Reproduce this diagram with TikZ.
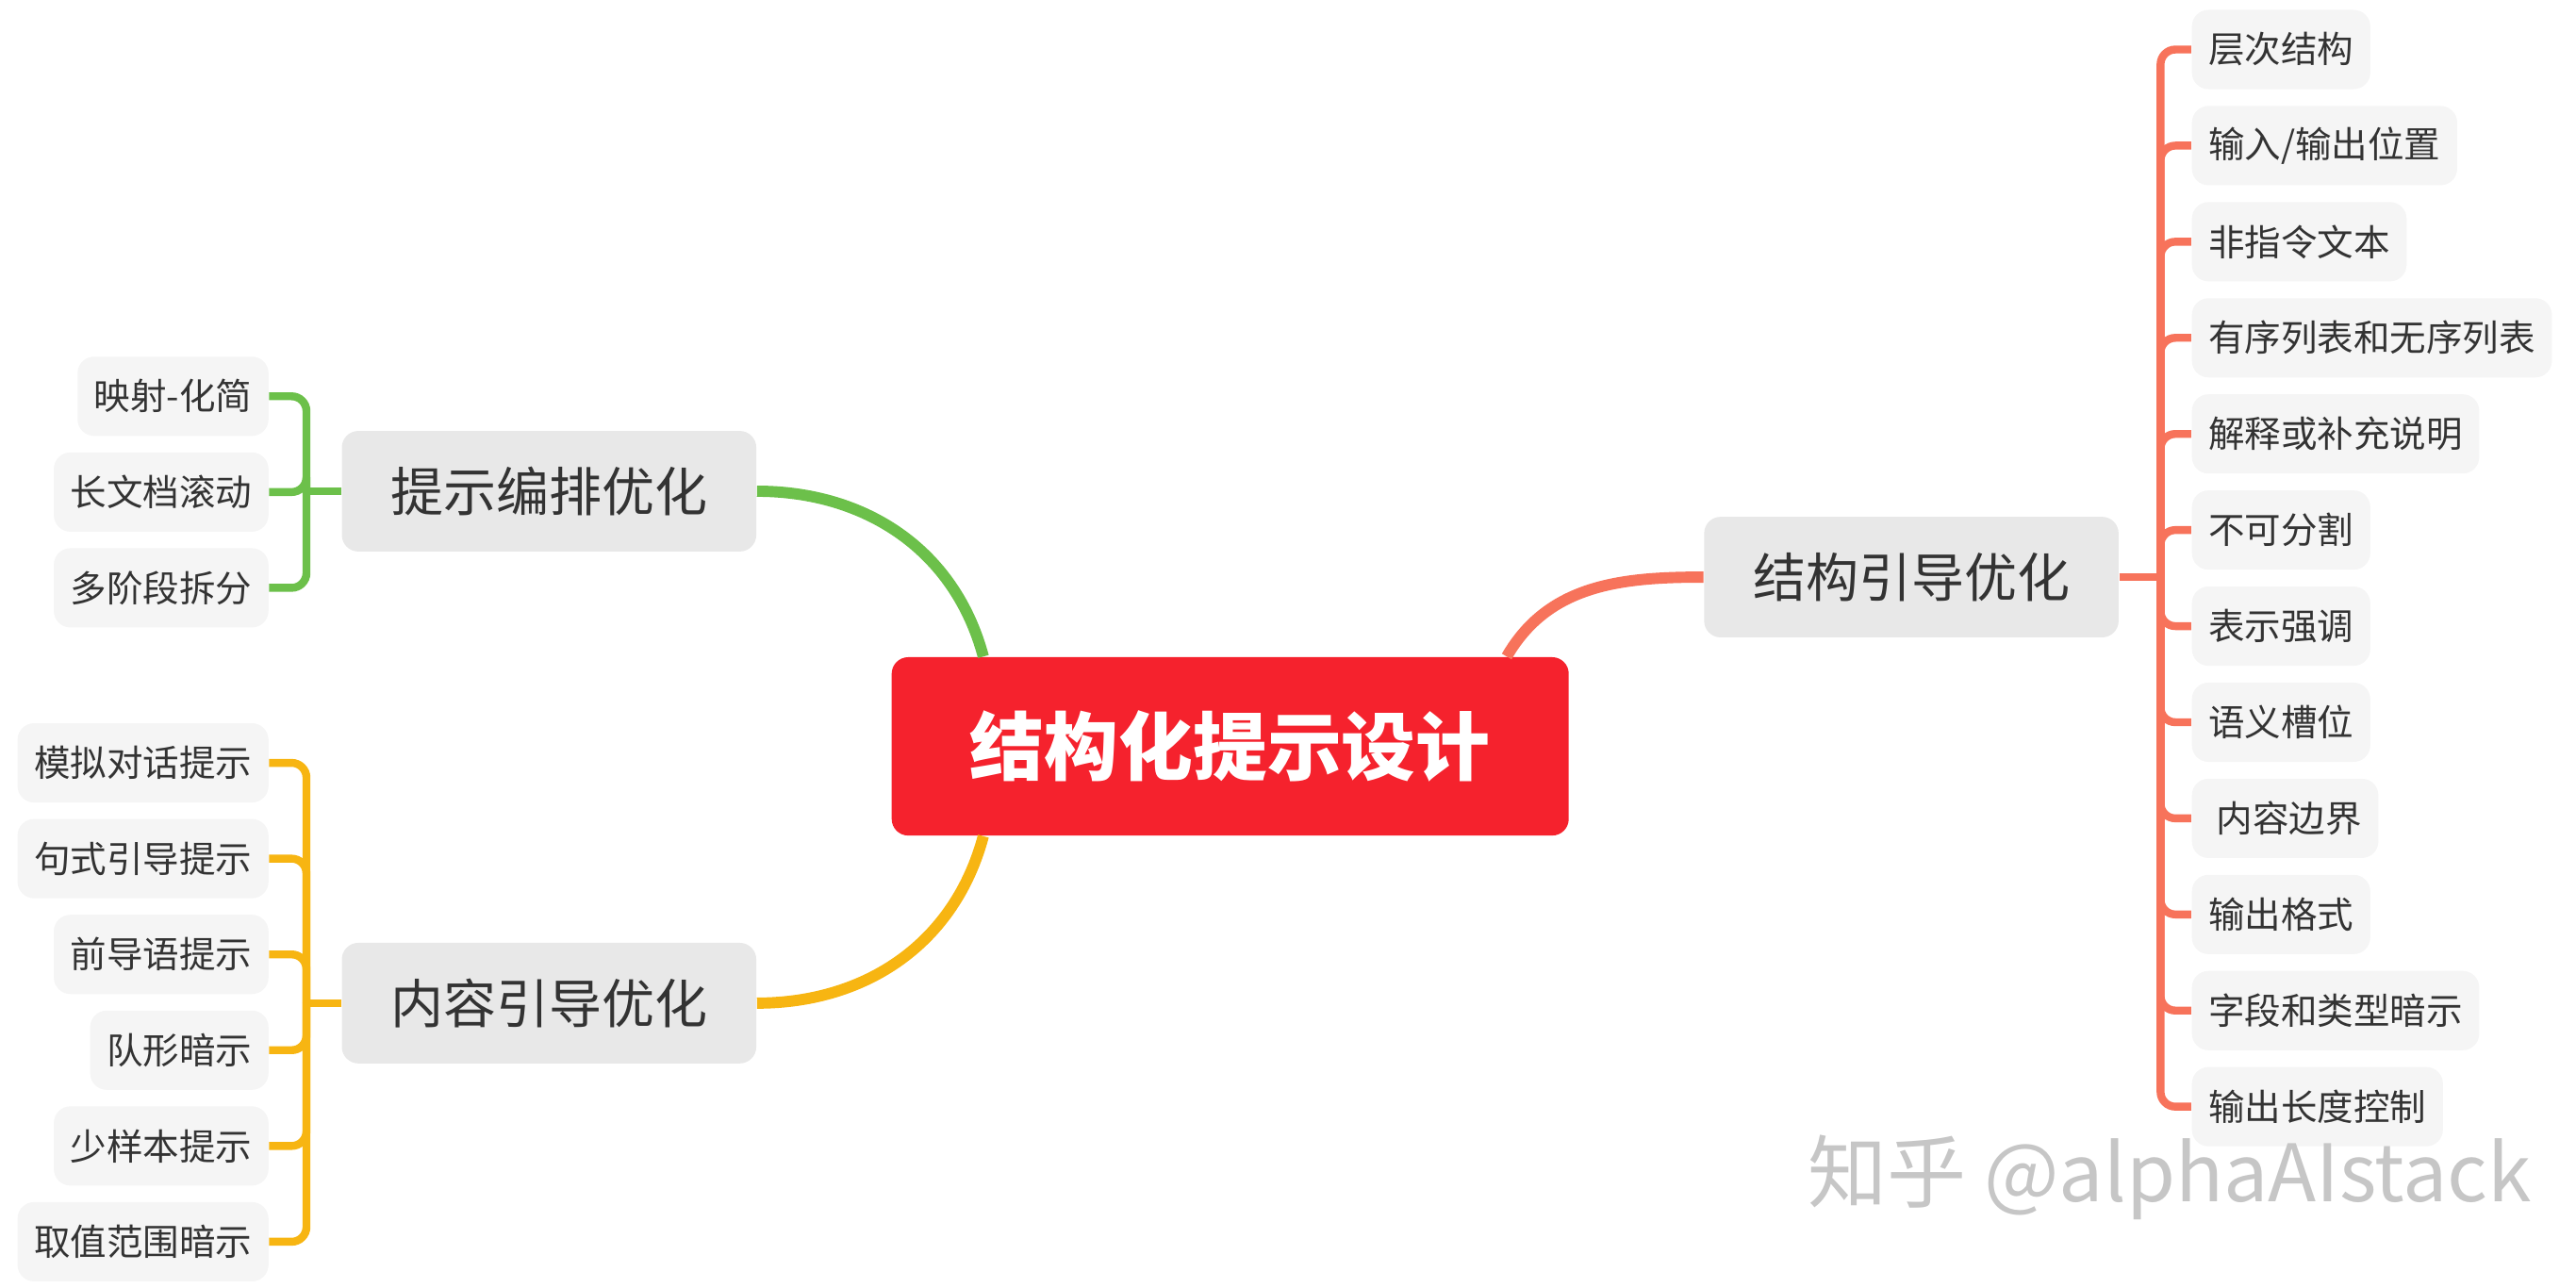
\documentclass[tikz,border=0pt]{standalone}
\usepackage{fontspec}
\setmainfont{Noto Sans CJK SC}
\definecolor{mroot}{HTML}{F5222D}
\definecolor{mgreen}{HTML}{6CC04A}
\definecolor{morange}{HTML}{F7B512}
\definecolor{msalmon}{HTML}{F7735B}
\definecolor{mtopic}{HTML}{E8E8E8}
\definecolor{mleaf}{HTML}{F5F5F5}
\definecolor{mtext}{HTML}{333333}
\begin{document}
\begin{tikzpicture}[x=0.5pt, y=0.5pt,
    root/.style={fill=mroot, text=white, rounded corners=5pt, minimum width=205pt, minimum height=54pt, font=\fontsize{22.5}{26}\selectfont\bfseries},
    topic/.style={fill=mtopic, text=mtext, rounded corners=5pt, minimum width=125.5pt, minimum height=36.5pt, font=\fontsize{16}{19}\selectfont},
    leaf/.style={fill=mleaf, text=mtext, rounded corners=5pt, inner xsep=5pt, minimum height=24pt, font=\fontsize{11}{13}\selectfont},
    branch/.style={line width=3.4pt},
    twig/.style={line width=2.4pt, rounded corners=4.5pt}]
    \useasboundingbox (0,0) rectangle (1560,780);
    \node[root] (root) at (745,328) {结构化提示设计};
    \node[topic] (bp) at (332.5,482.5) {提示编排优化};
    \node[topic] (nr) at (332.5,172.5) {内容引导优化};
    \node[topic] (jg) at (1157.5,430.5) {结构引导优化};
    % left, green
    \node[leaf, anchor=east] (bp1) at (163,540) {映射-化简};
    \node[leaf, anchor=east] (bp2) at (163,482) {长文档滚动};
    \node[leaf, anchor=east] (bp3) at (163,424) {多阶段拆分};
    % left, orange
    \node[leaf, anchor=east] (nr1) at (163,318) {模拟对话提示};
    \node[leaf, anchor=east] (nr2) at (163,260) {句式引导提示};
    \node[leaf, anchor=east] (nr3) at (163,202) {前导语提示};
    \node[leaf, anchor=east] (nr4) at (163,144) {队形暗示};
    \node[leaf, anchor=east] (nr5) at (163,86) {少样本提示};
    \node[leaf, anchor=east] (nr6) at (163,28) {取值范围暗示};
    % right, salmon
    \node[leaf, anchor=west] (jg1) at (1327,750) {层次结构};
    \node[leaf, anchor=west] (jg2) at (1327,691.8) {输入/输出位置};
    \node[leaf, anchor=west] (jg3) at (1327,633.6) {非指令文本};
    \node[leaf, anchor=west] (jg4) at (1327,575.4) {有序列表和无序列表};
    \node[leaf, anchor=west] (jg5) at (1327,517.2) {解释或补充说明};
    \node[leaf, anchor=west] (jg6) at (1327,459) {不可分割};
    \node[leaf, anchor=west] (jg7) at (1327,400.8) {表示强调};
    \node[leaf, anchor=west] (jg8) at (1327,342.6) {语义槽位};
    \node[leaf, anchor=west] (jg9) at (1327,284.4) {\ 内容边界};
    \node[leaf, anchor=west] (jg10) at (1327,226.2) {输出格式};
    \node[leaf, anchor=west] (jg11) at (1327,168) {字段和类型暗示};
    \node[leaf, anchor=west] (jg12) at (1327,109.8) {输出长度控制};
    \node[text=gray!45, font=\fontsize{24}{28}\selectfont] (wm) at (1314,67) {知乎 @alphaAIstack};
    % main branches
    \draw[branch, mgreen] (bp.east) to[out=0, in=105] (root.160);
    \draw[branch, morange] (nr.east) to[out=0, in=-105] (root.200);
    \draw[branch, msalmon] (jg.west) to[out=180, in=60] (root.18);
    % brackets
    \coordinate (bpj) at ([xshift=-10.5pt]bp.west);
    \coordinate (nrj) at ([xshift=-10.5pt]nr.west);
    \coordinate (jgj) at ([xshift=12.5pt]jg.east);
    \draw[twig, mgreen] (bp.west) -- (bpj);
    \draw[twig, morange] (nr.west) -- (nrj);
    \draw[twig, msalmon] (jg.east) -- (jgj);
    \foreach \n in {1,2,3}
        \draw[twig, mgreen] (bp\n.east) -| (bpj);
    \foreach \n in {1,...,6}
        \draw[twig, morange] (nr\n.east) -| (nrj);
    \foreach \n in {1,...,12}
        \draw[twig, msalmon] (jg\n.west) -| (jgj);
\end{tikzpicture}
\end{document}
